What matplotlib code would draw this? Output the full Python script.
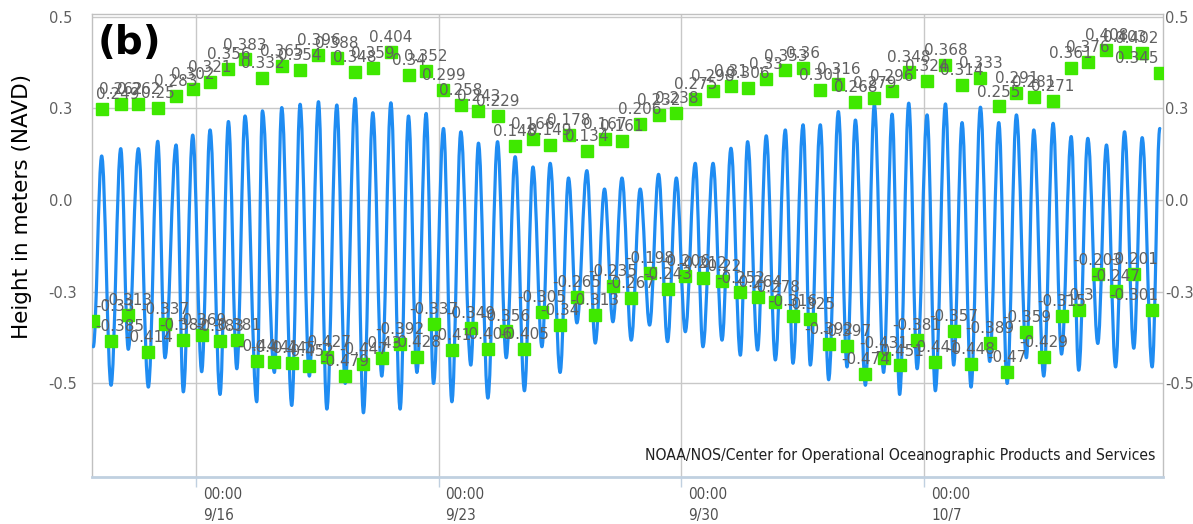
import matplotlib
matplotlib.use("Agg")
import matplotlib.pyplot as plt
from matplotlib.path import Path
from matplotlib.patches import PathPatch
from matplotlib.transforms import ScaledTranslation

# ---------------- data ----------------
# hours after 9/13 00:00
high_hours = [6.9, 20.1, 32.3, 45.7, 58.4, 69.9, 81.9, 94.6, 106.1, 118.1,
              131.5, 144.2, 156.9, 169.6, 182.3, 194.5, 207.0, 219.2, 231.4, 243.4,
              255.4, 267.6, 280.8, 293.0, 305.3, 317.2, 329.9, 342.6, 354.8, 366.9,
              379.5, 392.2, 404.5, 417.6, 429.9, 442.3, 453.8, 466.7, 479.9, 492.2,
              504.1, 516.6, 528.4, 541.5, 553.8, 565.3, 578.0, 590.7, 602.2, 614.9,
              627.6, 639.8, 651.8, 665.2, 677.7, 689.2, 702.1, 714.6, 726.8, 739.0]
low_hours = [1.1, 13.4, 25.3, 39.2, 50.7, 63.4, 76.1, 88.8, 100.4, 114.2,
             126.4, 138.4, 150.6, 162.7, 175.4, 188.0, 200.7, 213.4, 225.0, 236.5,
             249.2, 262.3, 274.1, 286.8, 299.4, 311.5, 324.1, 335.7, 348.4, 360.6,
             373.3, 386.0, 398.4, 410.7, 422.9, 436.1, 448.8, 460.7, 473.0, 485.2,
             497.2, 509.9, 522.6, 535.3, 547.9, 559.0, 571.1, 583.7, 596.4, 608.4,
             621.3, 633.4, 646.7, 658.7, 671.0, 682.9, 696.1, 708.4, 721.0, 733.7]

# blue water-level curve: heights at high and low water (m)
curve_high = [0.12, 0.14, 0.14, 0.16, 0.15, 0.177, 0.191, 0.214, 0.229, 0.243,
              0.252, 0.261, 0.268, 0.259, 0.277, 0.238, 0.265, 0.229, 0.236, 0.195,
              0.186, 0.155, 0.159, 0.118, 0.09, 0.10, 0.06, 0.08, 0.03, 0.06,
              0.03, 0.07, 0.06, 0.10, 0.10, 0.141, 0.159, 0.175, 0.191, 0.205,
              0.205, 0.241, 0.218, 0.26, 0.234, 0.264, 0.232, 0.262, 0.211, 0.253,
              0.211, 0.232, 0.191, 0.209, 0.173, 0.168, 0.15, 0.186, 0.17, 0.195]
curve_low = [-0.40, -0.505, -0.407, -0.51, -0.43, -0.523, -0.468, -0.53, -0.46, -0.55,
             -0.47, -0.56, -0.48, -0.57, -0.50, -0.58, -0.48, -0.57, -0.47, -0.50,
             -0.55, -0.45, -0.54, -0.43, -0.52, -0.40, -0.47, -0.335, -0.39, -0.332,
             -0.382, -0.341, -0.386, -0.359, -0.40, -0.382, -0.423, -0.409, -0.436, -0.445,
             -0.45, -0.49, -0.455, -0.505, -0.47, -0.53, -0.46, -0.52, -0.45, -0.51,
             -0.44, -0.50, -0.43, -0.48, -0.42, -0.464, -0.391, -0.455, -0.404, -0.455]

# green squares: labelled high / low values (m)
mark_high = [0.249, 0.262, 0.262, 0.25, 0.283, 0.302, 0.321, 0.356, 0.383, 0.332,
             0.365, 0.354, 0.396, 0.388, 0.348, 0.359, 0.404, 0.34, 0.352, 0.299,
             0.258, 0.243, 0.229, 0.148, 0.166, 0.149, 0.178, 0.134, 0.167, 0.161,
             0.206, 0.232, 0.238, 0.275, 0.298, 0.31, 0.306, 0.33, 0.353, 0.36,
             0.301, 0.316, 0.268, 0.279, 0.296, 0.348, 0.324, 0.368, 0.314, 0.333,
             0.255, 0.291, 0.281, 0.271, 0.361, 0.376, 0.408, 0.403, 0.402, 0.345]
mark_low = [-0.33, -0.385, -0.313, -0.414, -0.337, -0.382, -0.369, -0.383, -0.381, -0.44,
            -0.441, -0.445, -0.452, -0.427, -0.479, -0.447, -0.43, -0.392, -0.428, -0.337,
            -0.41, -0.349, -0.406, -0.356, -0.405, -0.305, -0.34, -0.265, -0.313, -0.235,
            -0.267, -0.198, -0.243, -0.206, -0.212, -0.22, -0.252, -0.264, -0.278, -0.316,
            -0.325, -0.392, -0.397, -0.474, -0.431, -0.451, -0.381, -0.441, -0.357, -0.448,
            -0.389, -0.47, -0.359, -0.429, -0.315, -0.3, -0.203, -0.247, -0.201, -0.301]

x_tick_hours = [72, 240, 408, 576]
x_tick_labels = ["00:00\n9/16", "00:00\n9/23", "00:00\n9/30", "00:00\n10/7"]
y_ticks = [0.5, 0.25, 0.0, -0.25, -0.5]
y_tick_labels = ["0.5", "0.3", "0.0", "-0.3", "-0.5"]
x_range = (0.0, 741.0)
y_range = (-0.755, 0.507)

BLUE = "#1f8cf2"
GREEN = "#3fe800"
GRID = "#c8c8c8"
TXT = "#606060"
NARROW = dict(family="DejaVu Sans", stretch="condensed")

W, H, DPI = 1193, 524, 100
fig = plt.figure(figsize=(W / DPI, H / DPI), dpi=DPI)
ax = fig.add_axes([91.7 / W, 1 - 477 / H, (1162.7 - 91.7) / W, (477 - 14) / H])
ax.set_xlim(*x_range)
ax.set_ylim(*y_range)

# grid and frame
ax.set_yticks(y_ticks, labels=y_tick_labels)
ax.set_xticks(x_tick_hours, labels=x_tick_labels)
ax.grid(True, color=GRID, lw=1.0)
ax.set_axisbelow(True)
for side in ["top", "left", "right"]:
    ax.spines[side].set_color("#c0c0c0")
    ax.spines[side].set_linewidth(1.0)
ax.spines["bottom"].set_color("#c0d0e0")
ax.spines["bottom"].set_linewidth(2.0)

# left y labels, left-aligned at ~x=48 px
ax.tick_params(axis="y", length=0, labelsize=10.5, labelcolor=TXT, pad=31)
for lab in ax.get_yticklabels():
    lab.set_horizontalalignment("left")

# right y labels
sec = ax.secondary_yaxis("right")
sec.set_yticks(y_ticks, labels=y_tick_labels)
sec.tick_params(axis="y", length=0, labelsize=10.5, labelcolor=TXT, pad=2)
sec.spines["right"].set_visible(False)

# x tick labels
ax.tick_params(axis="x", length=7, color="#c0d0e0", width=1.0, labelsize=11,
               labelcolor="#505050", pad=0.5)
shift = ScaledTranslation(7 / DPI, 0, fig.dpi_scale_trans)
for lab in ax.get_xticklabels():
    lab.set_horizontalalignment("left")
    lab.set_linespacing(1.45)
    lab.set_family(NARROW["family"])
    lab.set_stretch(NARROW["stretch"])
    lab.set_transform(lab.get_transform() + shift)

ax.set_ylabel("Height in meters (NAVD)", fontsize=15.5, color="black")
ax.yaxis.set_label_coords((32 - 91.7) / (1162.7 - 91.7), (477 - 206) / (477 - 14))

# blue curve: cubic Bezier segments between successive high and low waters
ext = sorted(list(zip(high_hours, curve_high)) + list(zip(low_hours, curve_low)))
verts = [ext[0]]
codes = [Path.MOVETO]
c = 0.3642
for (t0, v0), (t1, v1) in zip(ext[:-1], ext[1:]):
    d = t1 - t0
    verts += [(t0 + c * d, v0), (t1 - c * d, v1), (t1, v1)]
    codes += [Path.CURVE4] * 3
patch = PathPatch(Path(verts, codes), fill=False, edgecolor=BLUE, lw=2.3,
                  joinstyle="round", capstyle="round", zorder=3)
ax.add_patch(patch)
patch.set_clip_path(ax.patch)

# green squares
for hrs, vals in ((high_hours, mark_high), (low_hours, mark_low)):
    ax.plot(hrs, vals, ls="none", marker="s", ms=9, color=GREEN, mec=GREEN, zorder=4)

texts = []
for hrs, vals in ((high_hours, mark_high), (low_hours, mark_low)):
    for t, v in zip(hrs, vals):
        a = ax.annotate(f"{v:g}", (t, v), xytext=(0, 5), textcoords="offset points",
                        ha="center", va="bottom", fontsize=11, color=TXT, zorder=5,
                        annotation_clip=False)
        texts.append(a)

ax.text(0.0055, 0.978, "(b)", transform=ax.transAxes, fontsize=28, fontweight="bold",
        va="top", ha="left", zorder=6)
credit = ax.text(0.9935, 0.047,
                 "NOAA/NOS/Center for Operational Oceanographic Products and Services",
                 transform=ax.transAxes, ha="right", va="center", fontsize=11,
                 color="#202020", zorder=6, **NARROW)

# layout adjustments: keep value labels inside the plot area, fit credit line width
fig.canvas.draw()
r = fig.canvas.get_renderer()
axbb = ax.get_window_extent(r)
for a in texts:
    bb = a.get_window_extent(r)
    dx = 0.0
    if bb.x1 > axbb.x1 - 4:
        dx = (axbb.x1 - 4) - bb.x1
    elif bb.x0 < axbb.x0 + 4:
        dx = (axbb.x0 + 4) - bb.x0
    if dx:
        a.xyann = (dx * 72 / DPI, 5)
cw = credit.get_window_extent(r).width
credit.set_fontsize(credit.get_fontsize() * 509.0 / cw)

fig.savefig("out.png", dpi=DPI)
